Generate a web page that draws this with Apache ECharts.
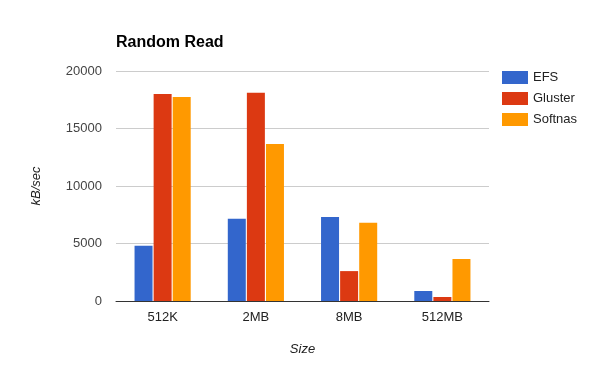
<!DOCTYPE html>
<html>
<head>
<meta charset="utf-8">
<script src="https://cdn.jsdelivr.net/npm/echarts@6/dist/echarts.min.js"></script>
<style>html,body{margin:0;padding:0;background:#fff}#c{width:604px;height:373px}</style>
</head>
<body>
<div id="c"></div>
<script>
const categories = ['512K', '2MB', '8MB', '512MB'];
const seriesNames = ['EFS', 'Gluster', 'Softnas'];
const efs = [4800, 7150, 7300, 870];
const gluster = [18000, 18100, 2600, 350];
const softnas = [17750, 13650, 6800, 3650];
const yTicks = [0, 5000, 10000, 15000, 20000];
const colors = ['#3366cc', '#dc3912', '#ff9900'];

const chart = echarts.init(document.getElementById('c'), null, {renderer: 'canvas'});
const font = 'Arial, "Liberation Sans", sans-serif';
const values = [efs, gluster, softnas];
chart.setOption({
  animation: false,
  textStyle: {fontFamily: font},
  title: {
    text: 'Random Read', left: 116, top: 35, padding: 0,
    textStyle: {fontFamily: font, fontSize: 16, fontWeight: 'bold', color: '#000'}
  },
  legend: {
    orient: 'vertical', left: 502, top: 71, padding: 0,
    itemWidth: 26, itemHeight: 13, itemGap: 8,
    icon: 'rect',
    textStyle: {fontFamily: font, fontSize: 13, color: '#222'},
    data: seriesNames
  },
  grid: {left: 116, right: 115, top: 71, bottom: 72},
  xAxis: {
    type: 'category', data: categories,
    name: 'Size', nameLocation: 'middle', nameGap: 42,
    nameTextStyle: {fontFamily: font, fontSize: 13, fontStyle: 'italic', color: '#222'},
    axisLine: {lineStyle: {color: '#333', width: 1}},
    axisTick: {show: false},
    axisLabel: {fontFamily: font, fontSize: 13, color: '#222', margin: 10}
  },
  yAxis: {
    type: 'value', min: yTicks[0], max: yTicks[yTicks.length - 1], interval: 5000,
    name: 'kB/sec', nameLocation: 'middle', nameGap: 73, nameRotate: 90,
    nameTextStyle: {fontFamily: font, fontSize: 13, fontStyle: 'italic', color: '#222'},
    axisLine: {show: false}, axisTick: {show: false},
    splitLine: {lineStyle: {color: '#cccccc', width: 1}},
    axisLabel: {fontFamily: font, fontSize: 13, color: '#444', margin: 14,
      formatter: v => String(v)}
  },
  series: seriesNames.map((n, i) => ({
    name: n, type: 'bar', data: values[i], barWidth: 18, barGap: '6%',
    itemStyle: {color: colors[i]}
  }))
});
</script>
</body>
</html>
